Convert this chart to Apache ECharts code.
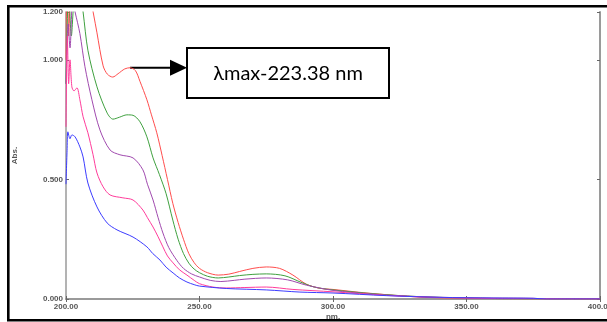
<!DOCTYPE html>
<html>
<head>
<meta charset="utf-8">
<script src="https://cdn.jsdelivr.net/npm/echarts@6/dist/echarts.min.js"></script>
<style>
    html, body { margin: 0; padding: 0; background: #fff; }
    #main { width: 607px; height: 322px; }
</style>
</head>
<body>
<div id="main"></div>
<script>
// wavelength (nm), absorbance pairs
var redData = [[200, 1.0], [200.5, 1.5], [201, 1.1], [202, 1.4], [204, 1.6], [207, 1.5], [209, 1.28],
    [211.6, 1.113], [213.9, 0.975], [215.5, 0.94], [217.5, 0.928], [219.5, 0.942], [222, 0.962],
    [224, 0.967], [226, 0.955], [227.7, 0.91], [230.3, 0.833], [232, 0.77], [234, 0.695],
    [236, 0.6], [238, 0.5], [240, 0.4], [242, 0.32], [244, 0.25], [246, 0.19], [248, 0.152],
    [250, 0.128], [253, 0.11], [257, 0.1], [261, 0.104], [265, 0.115], [270, 0.128], [275, 0.134],
    [280, 0.128], [285, 0.1], [290, 0.062], [295, 0.045], [300, 0.04], [312.7, 0.025],
    [332.6, 0.008], [345, 0.004], [360, 0.002], [400, 0.0]];
var greenData = [[200, 0.9], [201, 1.3], [202, 1.1], [203, 1.25], [204.5, 1.35], [206.4, 1.2],
    [208.2, 1.04], [211.6, 0.887], [215.4, 0.778], [217.6, 0.752], [220, 0.76], [222.8, 0.77],
    [225.1, 0.768], [227.7, 0.741], [230.3, 0.678], [232.6, 0.59], [235, 0.52], [237.5, 0.44],
    [240, 0.33], [242, 0.25], [244, 0.19], [246, 0.15], [248, 0.125], [250, 0.11], [253, 0.095],
    [257, 0.088], [261, 0.092], [265, 0.098], [270, 0.103], [275, 0.105], [282, 0.097], [288, 0.07],
    [293, 0.05], [300, 0.038], [315, 0.022], [332, 0.01], [350, 0.004], [370, 0.001], [400, 0.0]];
var purpleData = [[200, 0.9], [200.8, 1.15], [201.5, 1.05], [202.5, 1.25], [203.4, 1.2],
    [205.2, 1.11], [207.1, 0.971], [209.7, 0.833], [212.7, 0.707], [216.5, 0.623], [220.2, 0.603],
    [225.1, 0.59], [228.8, 0.54], [230.5, 0.48], [232.6, 0.414], [234.5, 0.34], [236.3, 0.276],
    [238.5, 0.215], [241.6, 0.16], [244, 0.128], [247, 0.105], [250, 0.092], [254, 0.078],
    [258, 0.073], [263, 0.078], [267, 0.083], [275, 0.088], [283, 0.08], [290, 0.058],
    [300, 0.036], [315, 0.02], [332, 0.01], [350, 0.005], [375, 0.003], [380, 0.0], [400, 0.0]];
var pinkData = [[200, 0.72], [200.5, 1.1], [201, 0.9], [201.5, 1.0], [202.2, 0.887], [203, 0.87],
    [204.1, 0.883], [205.2, 0.833], [206.4, 0.762], [208.2, 0.695], [210.1, 0.605], [211.6, 0.527],
    [213.9, 0.469], [216.5, 0.435], [221.3, 0.423], [225.1, 0.414], [228.8, 0.372], [230.5, 0.34],
    [232.6, 0.301], [234.5, 0.26], [236.3, 0.218], [238, 0.18], [240.1, 0.151], [242.5, 0.122],
    [245.3, 0.1], [248, 0.078], [250, 0.064], [255, 0.05], [260, 0.046], [267, 0.048],
    [275, 0.05], [285, 0.04], [300, 0.03], [320, 0.015], [340, 0.006], [360, 0.002], [400, 0.0]];
var blueData = [[200, 0.48], [200.4, 0.62], [200.7, 0.699], [201.5, 0.67], [202.2, 0.686],
    [203.4, 0.678], [205.2, 0.636], [206.4, 0.594], [208.2, 0.485], [211.6, 0.385], [215.4, 0.318],
    [219.1, 0.289], [225.1, 0.259], [230.3, 0.218], [232.5, 0.19], [235.2, 0.163], [237.5, 0.133],
    [240.1, 0.109], [242.5, 0.088], [245.3, 0.071], [248, 0.06], [250, 0.054], [260, 0.044],
    [275, 0.038], [287.6, 0.029], [300, 0.025], [320, 0.014], [340, 0.007], [360, 0.004],
    [375, 0.003], [380, 0.0], [400, 0.0]];

var seriesNames = ['S1', 'S2', 'S3', 'S4', 'S5'];
var seriesData = [redData, greenData, purpleData, pinkData, blueData];
var seriesColors = ['#ff4d4d', '#3fa03f', '#a04aae', '#ff3c9a', '#3c3cff'];

var xTicks = [200, 400, 50];
var yTicks = [0, 1.2, 0.5];
var peakLabel = 'λmax-223.38 nm';
var peakPoint = [224, 0.967];

var myChart = echarts.init(document.getElementById('main'));

var axisGray = '#9a9a9a';
var labelStyle = {
    color: '#555',
    fontSize: 8,
    fontWeight: 'bold',
    fontFamily: 'Liberation Sans'
};

var series = [];
for (var i = 0; i < seriesData.length; i++) {
    series.push({
        name: seriesNames[i],
        type: 'line',
        data: seriesData[i],
        showSymbol: false,
        smooth: 0.3,
        clip: true,
        lineStyle: { color: seriesColors[i], width: 1 },
        animation: false
    });
}

var option = {
    animation: false,
    backgroundColor: '#fff',
    grid: {
        left: 66,
        right: 7,
        top: 12,
        bottom: 23,
        containLabel: false,
        outerBoundsMode: 'none'
    },
    xAxis: [{
        type: 'value',
        min: xTicks[0],
        max: xTicks[1],
        interval: xTicks[2],
        name: 'nm.',
        nameLocation: 'middle',
        nameGap: 14,
        nameMoveOverlap: false,
        nameTextStyle: labelStyle,
        axisLine: { lineStyle: { color: axisGray, width: 1.5 } },
        axisTick: { inside: true, length: 3, lineStyle: { color: '#666' } },
        axisLabel: {
            margin: 4,
            color: '#555',
            fontSize: 8,
            fontWeight: 'bold',
            fontFamily: 'Liberation Sans',
            formatter: function (v) { return v.toFixed(2); }
        },
        splitLine: { show: false }
    }, {
        type: 'value',
        position: 'top',
        min: xTicks[0],
        max: xTicks[1],
        interval: xTicks[2],
        axisLine: { lineStyle: { color: axisGray, width: 2 } },
        axisTick: { inside: true, length: 3, lineStyle: { color: '#666' } },
        axisLabel: { show: false },
        splitLine: { show: false }
    }],
    yAxis: [{
        type: 'value',
        min: yTicks[0],
        max: yTicks[1],
        interval: yTicks[2],
        name: 'Abs.',
        nameLocation: 'middle',
        nameGap: 47,
        nameMoveOverlap: false,
        nameRotate: 90,
        nameTextStyle: labelStyle,
        axisLine: { show: true, lineStyle: { color: axisGray, width: 1.5 } },
        axisTick: { show: true, inside: true, length: 3, lineStyle: { color: '#666' } },
        axisLabel: {
            margin: 3,
            color: '#555',
            fontSize: 8,
            fontWeight: 'bold',
            fontFamily: 'Liberation Sans',
            formatter: function (v) { return v.toFixed(3); }
        },
        splitLine: { show: false }
    }, {
        type: 'value',
        position: 'right',
        min: yTicks[0],
        max: yTicks[1],
        interval: yTicks[2],
        axisLine: { show: true, lineStyle: { color: axisGray, width: 2 } },
        axisTick: { show: true, inside: true, length: 3, lineStyle: { color: '#666' } },
        axisLabel: { show: false },
        splitLine: { show: false }
    }],
    series: series
};
myChart.setOption(option);

// annotation: arrow from the red peak to the label box, plus the outer frame
var start = myChart.convertToPixel({ xAxisIndex: 0, yAxisIndex: 0 }, peakPoint);
var boxX = 187, boxY = 48, boxW = 202, boxH = 50;
var arrowY = start[1];
myChart.setOption({
    graphic: [{
        type: 'rect',
        shape: { x: 8.3, y: 6.2, width: 620, height: 314 },
        style: { fill: 'none', stroke: '#000', lineWidth: 2.6 },
        silent: true
    }, {
        type: 'line',
        shape: { x1: start[0], y1: arrowY, x2: boxX - 16, y2: arrowY },
        style: { stroke: '#000', lineWidth: 2 },
        silent: true
    }, {
        type: 'polygon',
        shape: { points: [[boxX - 17, arrowY - 8], [boxX, arrowY], [boxX - 17, arrowY + 8]] },
        style: { fill: '#000' },
        silent: true
    }, {
        type: 'rect',
        shape: { x: boxX, y: boxY, width: boxW, height: boxH },
        style: { fill: '#fff', stroke: '#000', lineWidth: 2 },
        silent: true
    }, {
        type: 'text',
        x: boxX + boxW / 2,
        y: boxY + boxH / 2 + 1,
        style: {
            text: peakLabel,
            fill: '#000',
            font: '20px Lato',
            align: 'center',
            verticalAlign: 'middle'
        },
        silent: true
    }]
});
</script>
</body>
</html>
